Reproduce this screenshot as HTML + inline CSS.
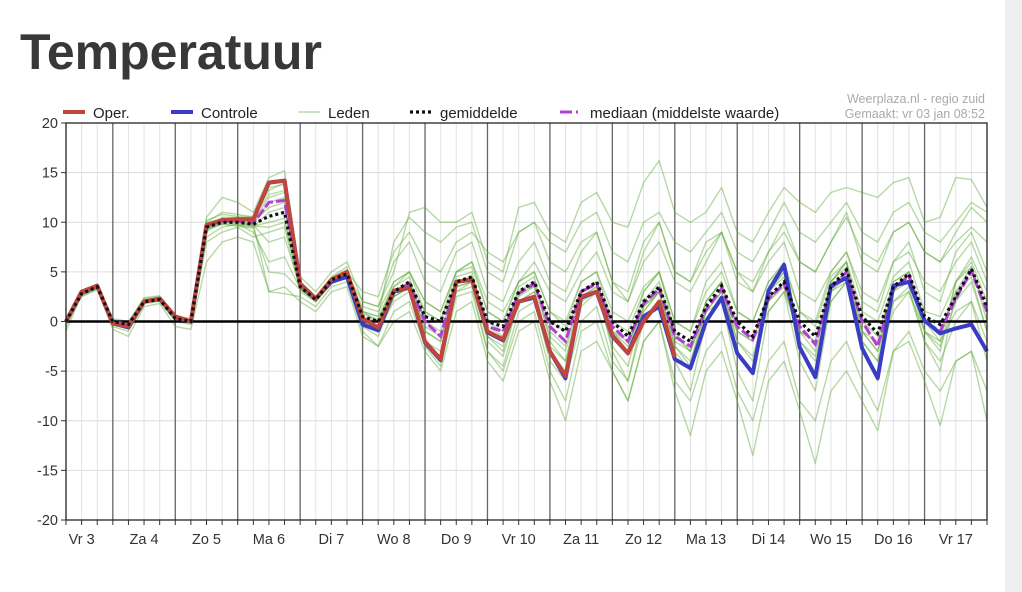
<!DOCTYPE html>
<html><head><meta charset="utf-8"><style>
body{margin:0;width:1022px;height:592px;background:#fff;overflow:hidden;font-family:"Liberation Sans",sans-serif;position:relative}
#title{position:absolute;left:20px;top:23px;font-size:50px;color:#383838;font-weight:bold;letter-spacing:0px}
#sb{position:absolute;left:1005px;top:0;width:17px;height:592px;background:#efefef}
svg{position:absolute;left:0;top:0}
</style></head><body>
<div id="title">Temperatuur</div>
<div id="sb"></div>
<svg id="c" width="1022" height="592"></svg>
<script>
const dayLabels=["Vr 3","Za 4","Zo 5","Ma 6","Di 7","Wo 8","Do 9","Vr 10","Za 11","Zo 12","Ma 13","Di 14","Wo 15","Do 16","Vr 17"];
const yTicks=[20,15,10,5,0,-5,-10,-15,-20];
const oper=[0,3,3.6,-0.2,-0.5,2,2.3,0.5,0,9.7,10.2,10.3,10.3,14,14.2,3.8,2.3,4.2,5,0.3,-0.6,3.1,3.4,-2,-3.8,4,4.2,-1,-1.8,2,2.5,-3,-5.5,2.5,3,-1.4,-3.2,0,2,-3.6];
const controle=[0,3,3.6,-0.2,-0.6,2,2.3,0.5,0,9.7,10.2,10.3,10.3,14,14.2,3.8,2.3,4,4.5,-0.3,-0.9,3,3.4,-2.1,-3.9,4,4.2,-1.1,-1.9,2,2.4,-3,-5.7,2.4,3,-1.5,-3.2,0.5,1.5,-3.8,-4.7,0,2.4,-3.2,-5.2,3.1,5.7,-2.6,-5.6,3.6,4.4,-2.7,-5.7,3.6,4,0.1,-1.2,-0.7,-0.3,-3];
const gemiddelde=[0,2.8,3.5,0,-0.3,2,2.2,0.3,0,9.5,10,10,9.8,10.6,11,3.5,2.2,4.2,4.8,0.5,0,3,4,0.5,0,4,4.5,0,-0.5,3,4,0,-1,3,4,0,-1.5,2,3.5,-1,-2,1.5,3.6,0,-1.5,2.5,4,0,-1.5,3.5,5.2,0.5,-1.2,3.5,4.8,0.5,-0.3,2.5,5.3,1.5];
const mediaan=[0,2.8,3.5,0,-0.3,2,2.2,0.3,0,9.6,10.1,10.1,9.9,12,12.2,3.6,2.2,4.2,4.8,0.2,-0.5,3,3.8,0,-1.5,4,4.3,-0.5,-1,2.8,3.8,-0.5,-2,3,3.8,-0.5,-2,1.8,3.3,-1.5,-2.5,1.2,3.3,-0.5,-1.8,2.3,3.8,-0.5,-2.3,3.3,5,0,-2.5,3.3,4.6,0,-1,2.3,5.1,1];
const m1=[0,3,3.8,0.3,0,2.3,2.5,0.5,0.2,10.5,12.5,12,11,14.5,15.2,4.5,3,5,6,2,1.5,5,11,11.5,10,10,11,6,5,11.5,12,9,8,12,13,10,9.5,14,16.2,11,10,11,13.5,9,8,11,13.5,12,11,13,13.5,13,12.5,14,14.5,10,10.5,14.5,14.3,11.5];
const m2=[0,2.5,3.2,-0.5,-1,1.8,2,0,-0.3,8,9,9.5,8.5,9,9.5,3,2,3.8,4.5,1,0.5,8,10.5,9,8,9.5,10,5,4,9,10,6,5,8,9,4,2,7,10,5,4,8,9,5,3,7,9,6,5,8,11,6,5,9,10,7,6,9,11.5,10];
const m3=[-1,2.7,3.3,-0.8,-1.5,1.5,1.8,-0.5,-0.8,6,8,8.5,8,3,3.5,2,1,3,3.5,-1.5,-2.5,1,2,-2.5,-4.5,2.5,3,-3,-5,0,1,-5,-8,-1,0,-5,-8,-2,0,-7,-11.5,-5,-3,-8,-13.5,-6,-4,-9,-14.3,-7,-5,-8,-11,-3,-2,-6,-10.5,-4,-3,-10];
const m4=[0.2,3,3.6,0.2,-0.2,2.2,2.4,0.4,0.1,9,10.5,10.5,10,12,12.5,4,2.5,4.5,5.5,0,-0.5,3.5,4.5,-1,-2,4.5,5,-1,-2,3.5,4.5,-2,-4,2.5,3.5,-3,-6,1,3,-4,-7,0,2,-5,-8,1,3,-4,-7,2,4,-3,-6,2,3.5,-2,-5,3,4.5,-1];
const m5=[0,2.9,3.4,0.1,-0.4,2.1,2.3,0.2,0,9.8,10.2,10.4,10.3,13.5,13.8,3.8,2.3,4.3,5,1,0.5,3.5,5,2,1,5,6,2,1,4,6,3,2,5,7,3,2,6,8,4,3,6,9,5,4,7,10,6,5,8,10.5,7,6,9,10,7,6,8,9.5,8];
const m6=[-0.5,2.6,3.3,-0.3,-0.6,1.9,2.1,0.1,-0.2,9.2,9.8,9.6,9.4,5,4.8,3.2,2,4,4.6,0.3,-0.5,2.5,3.5,-0.5,-1.5,3.5,4,-1.5,-3,2,3,-2.5,-4,2,3,-1,-3,3,5,-1,-3,2,4,-2,-4,3,5,-1,-3,4,6,-1,-3,3,5,0,-2,4,6,2];
const m7=[0,2.8,3.5,0,-0.3,2,2.2,0.3,0,9.6,10.1,9.9,9.7,8,8.5,3.5,2.2,4.1,4.7,2,1.5,6,8,4,3,7,8,3,2,6,8,4,3,7,9,4,3,8,10,5,4,7,9,4,3,6,8,3,2,5,7,3,2,6,7,4,3,6,8,4];
const m8=[0,2.8,3.5,0,-0.3,2,2.2,0.3,0,10,11,10.8,10.5,12.8,13.2,3.6,2.3,4.3,5,0,-1,2,3,-2,-3,3,3.5,-3,-4.5,1,2,-4,-6,0,1.5,-4,-6,0,2,-3,-5,1,3,-3,-5,2,4,-2,-4,2,4,-2,-4,1,3,-2,-4,0,2,-4];
const m9=[0,2.8,3.5,0,-0.3,2,2.2,0.3,0,9.4,9.9,10.1,9.6,10,10.4,3.4,2.1,4,4.6,0.8,0.2,3,4,1,0,4,4.5,0,-1,3,3.5,0,-1,3,4,-1,-2,1,3,-2,-3,1,2,-1,-2,1,3,-1,-2,3,4,-1,-2,2,3,-1,-2,1,2,-2];
const m10=[0,2.8,3.5,0,-0.3,2,2.2,0.3,0,8.5,9.5,9.8,9,6,6.5,3.3,2,3.9,4.4,1.5,1,4,5,2,1,5,6,1,0,4,5,1,0,4,5,0,-1,3,5,0,-1,4,6,1,0,4,6,1,0,5,7,2,1,6,8,3,2,7,9,5];
const m11=[0.3,3.1,3.7,0.1,-0.1,2.4,2.6,0.6,0.3,10.2,10.8,10.6,10.6,13.2,14,3.7,2.5,4.4,5.1,-0.5,-1.5,2.5,3.5,-2.5,-3.5,3,4,-2,-3.5,2,3,-3,-5,1.5,3,-2.5,-4.5,1.5,3,-2.5,-4.5,2,4,-3,-5,3,5,-3,-5,4,6,-2,-4,4,5,-1,-3,4,5.5,0];
const m12=[0,2.8,3.5,0,-0.3,2,2.2,0.3,0,9.7,10.2,10.1,10,11.5,12,3.6,2.3,4.2,4.9,0.5,0,3,4,0,-1,4,4.5,-0.5,-1.5,3,4,-1,-2.5,3,4,-1,-2.5,2,4,-1.5,-3,2,4,-1,-2,3,4.5,-1,-2,4,5.5,0,-1.5,4,5,0,-1,3,5.5,1];
const m13=[0,2.8,3.5,0,-0.3,2,2.2,0.3,0,9.9,10.4,10.3,10.1,12.5,13,3.7,2.4,4.3,5,3,2.5,7,9,6,5,8,9,7,6,9,10,8,7,10,11,7,6,10,11,8,7,9,11,7,6,9,12,9,8,10,12,9,8,11,12,9,8,10,12,11];
const m14=[0,2.8,3.5,0,-0.3,2,2.2,0.3,0,9.5,10,10,9.8,3,2.8,2.5,1.5,3.5,4,-1,-2.5,0,1,-3,-5,1,2,-4,-6,-1,0,-6,-10,-3,-2,-5,-8,-2,0,-6,-8,-3,-1,-7,-10,-4,-2,-8,-10,-4,-2,-6,-9,-3,-1,-5,-7,-4,-3,-7];
const m15=[0,2.9,3.6,0,-0.2,2.1,2.3,0.3,0,9.3,9.8,9.7,9.5,11,11.5,3.3,2.2,4.4,5.2,1,0,4,5,1,0,5,5.5,1,0,4,5,1,-0.5,4,5,1,0,3.5,5,0,-1,3,5,1,0,4,5.5,1,-0.5,4.5,6,1,0,4.5,6,1,0.5,4,6.5,3];
const m16=[0,2.7,3.4,-0.1,-0.5,1.9,2.1,0.2,-0.1,9.6,10,9.8,9.6,9.5,10,3.4,2,3.9,4.5,0,-1,2.5,3.5,-1,-2,3.5,4,-1.5,-2.5,2.5,3.5,-1.5,-3,2.5,3.5,-1.5,-3,1.5,3,-2.5,-4,1,3,-2,-3.5,2,3.5,-2,-3.5,3,4.5,-1,-3,3,4,-1,-2.5,2,4,-1];
const members=[m1,m2,m3,m4,m5,m6,m7,m8,m9,m10,m11,m12,m13,m14,m15,m16];

const NS="http://www.w3.org/2000/svg";
const svg=document.getElementById('c');
const L=66,R=987,T=123,B=520,N=60;
const xs=i=>L+(R-L)*i/(N-1);
const ys=v=>T+(B-T)*(20-v)/40;
function mk(tag,attrs,parent){const e=document.createElementNS(NS,tag);for(const k in attrs)e.setAttribute(k,attrs[k]);(parent||svg).appendChild(e);return e;}
function pts(arr){return arr.map((v,i)=>xs(i).toFixed(1)+','+ys(v).toFixed(1)).join(' ');}

for(let i=0;i<N;i++){const g=mk('line',{x1:xs(i),x2:xs(i),y1:T,y2:B,stroke:'#e2e2e2','stroke-width':1});

}
for(let v=-20;v<=20;v+=5){const g=mk('line',{x1:L,x2:R,y1:ys(v),y2:ys(v),stroke:'#dcdcdc','stroke-width':1});

}
for(let d=1;d<dayLabels.length;d++){const x=xs(4*d-1);const l=mk('line',{x1:x,x2:x,y1:T,y2:B,stroke:'#666','stroke-width':1.3});

}
members.forEach(m=>{const p=mk('polyline',{points:pts(m),fill:'none',stroke:'rgba(95,170,55,0.45)','stroke-width':1.4,'stroke-linejoin':'round'});

});
const z=mk('line',{x1:L,x2:R,y1:ys(0),y2:ys(0),stroke:'#000','stroke-width':2.5});


const med=mk('polyline',{points:pts(mediaan),fill:'none',stroke:'#b43fd6','stroke-width':3,'stroke-dasharray':'10,3'});


const ctl=mk('polyline',{points:pts(controle),fill:'none',stroke:'#3a3dc4','stroke-width':4,'stroke-linejoin':'round'});


const op=mk('polyline',{points:pts(oper),fill:'none',stroke:'#c0453d','stroke-width':4,'stroke-linejoin':'round'});


const mn=mk('polyline',{points:pts(gemiddelde),fill:'none',stroke:'#111','stroke-width':3.2,'stroke-dasharray':'3,3'});


const fr=mk('rect',{x:L,y:T,width:R-L,height:B-T,fill:'none',stroke:'#222','stroke-width':1.3});


yTicks.forEach(v=>{const t=mk('text',{x:L-8,y:ys(v)+5,'text-anchor':'end','font-size':14.5,fill:'#333'});t.textContent=v;


const k=mk('line',{x1:L-5,x2:L,y1:ys(v),y2:ys(v),stroke:'#333'});

});
for(let i=0;i<N;i++){const k=mk('line',{x1:xs(i),x2:xs(i),y1:B,y2:B+5,stroke:'#333'});

}
dayLabels.forEach((d,j)=>{const t=mk('text',{x:xs(4*j+1),y:544,'text-anchor':'middle','font-size':14.5,fill:'#333'});t.textContent=d;

});
function leg(x,sw,label,name){const g=mk('g',{});
mk('line',Object.assign({x1:x,x2:x+22,y1:112,y2:112},sw),g);const t=mk('text',{x:x+30,y:118,'font-size':15,fill:'#222'},g);t.textContent=label;}
leg(63,{stroke:'#c0453d','stroke-width':4},'Oper.','legend-oper');
leg(171,{stroke:'#3a3dc4','stroke-width':4},'Controle','legend-controle');
leg(298,{stroke:'rgba(95,170,55,0.5)','stroke-width':1.3},'Leden','legend-leden');
leg(410,{stroke:'#111','stroke-width':3.2,'stroke-dasharray':'3,3'},'gemiddelde','legend-gemiddelde');
leg(560,{stroke:'#b43fd6','stroke-width':3,'stroke-dasharray':'12,4,2,4'},'mediaan (middelste waarde)','legend-mediaan');
const c1=mk('text',{x:985,y:103,'text-anchor':'end','font-size':12.5,fill:'#aaa'});c1.textContent='Weerplaza.nl - regio zuid';


const c2=mk('text',{x:985,y:118,'text-anchor':'end','font-size':12.5,fill:'#aaa'});c2.textContent='Gemaakt: vr 03 jan 08:52';


</script>
</body></html>
